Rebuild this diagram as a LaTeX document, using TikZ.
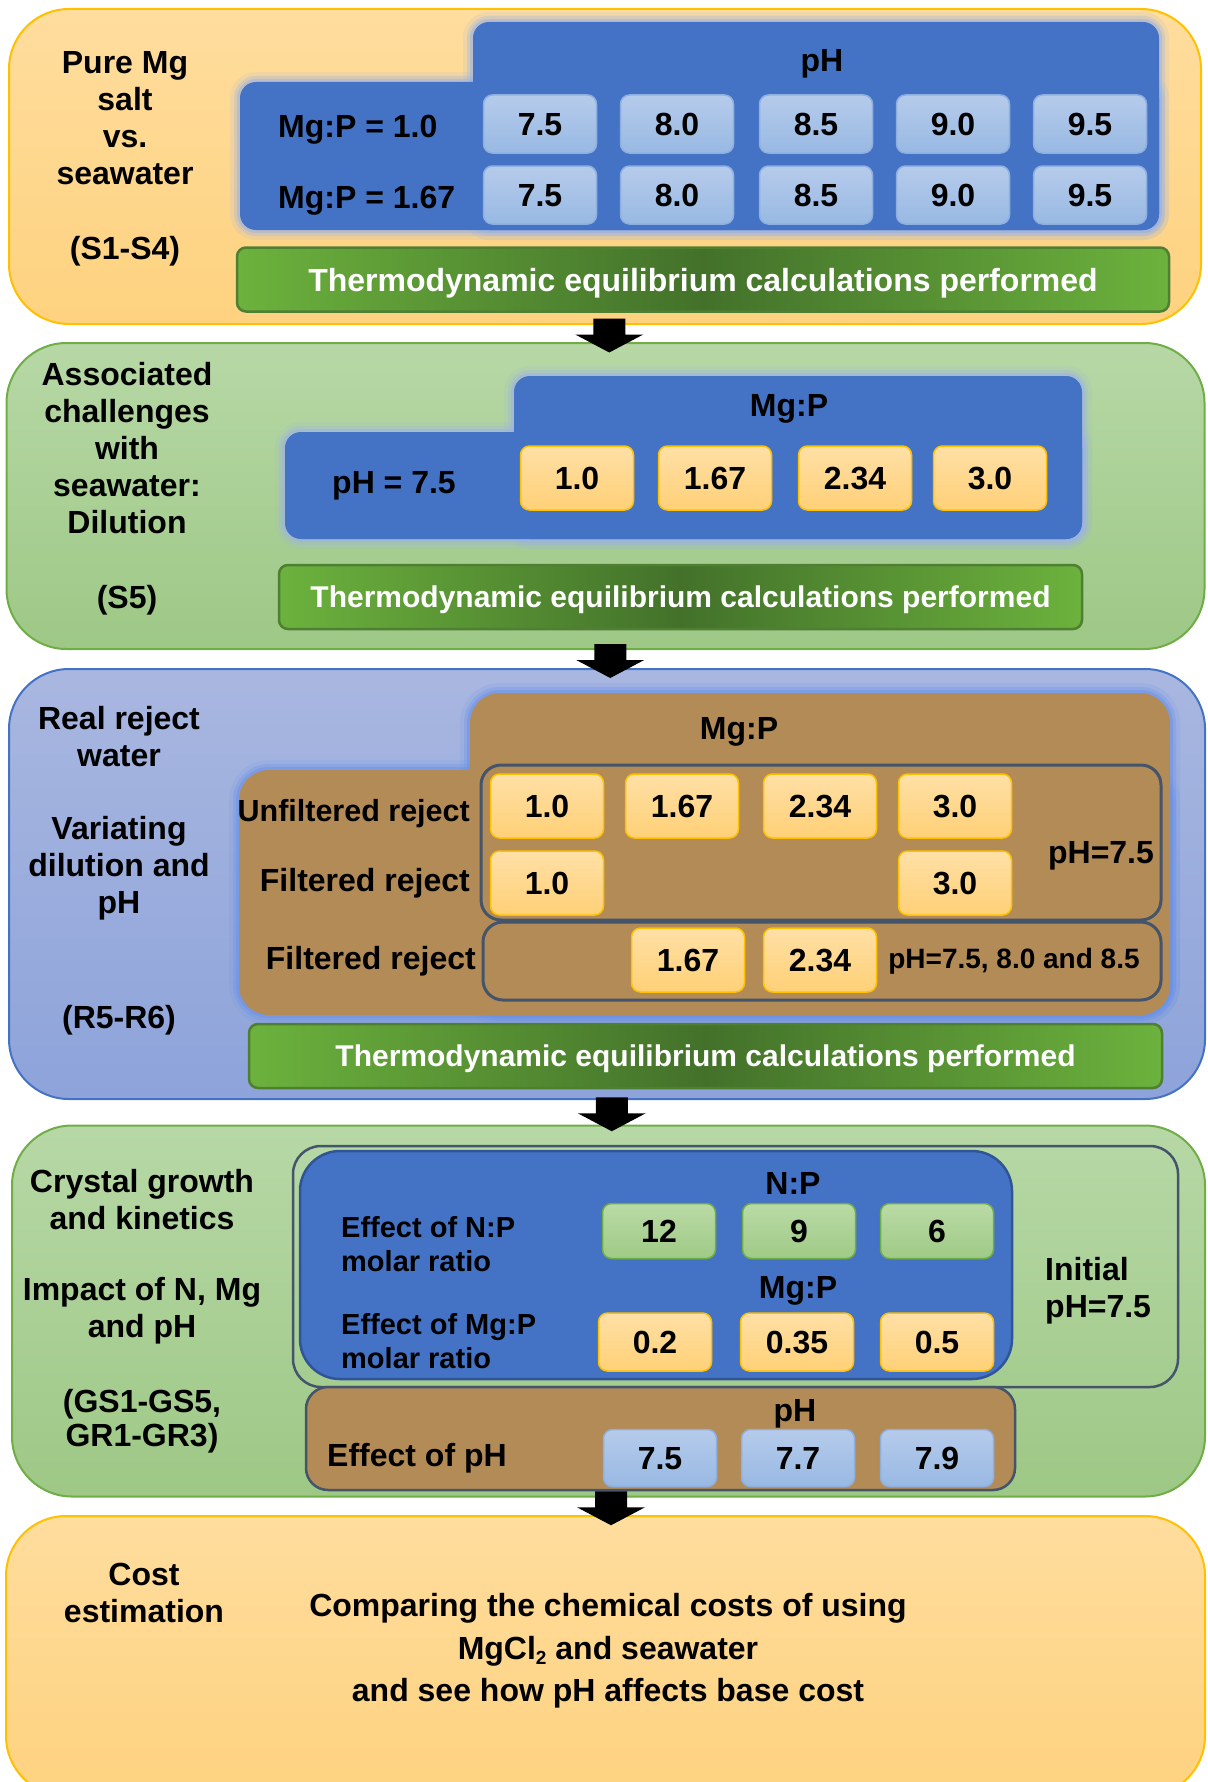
\documentclass[tikz,border=0pt]{standalone}
\usepackage{fontspec}
\setmainfont{Liberation Sans}
\usetikzlibrary{calc}
\definecolor{orgTop}{HTML}{FFDD9E}
\definecolor{orgBot}{HTML}{FED27F}
\definecolor{orgLine}{HTML}{FFC000}
\definecolor{grnTop}{HTML}{B7D8A6}
\definecolor{grnBot}{HTML}{9EC886}
\definecolor{grnLine}{HTML}{70AD47}
\definecolor{bluTop}{HTML}{A9B7E0}
\definecolor{bluBot}{HTML}{8DA3DA}
\definecolor{bluLine}{HTML}{4472C4}
\definecolor{blueA}{HTML}{4472C4}
\definecolor{blueEdge}{HTML}{2F5597}
\definecolor{brownA}{HTML}{B38B56}
\definecolor{slate}{HTML}{44546A}
\definecolor{lbTop}{HTML}{B6CBEB}
\definecolor{lbBot}{HTML}{98B9E3}
\definecolor{lbLine}{HTML}{8DB0E0}
\definecolor{obTop}{HTML}{FFE0A6}
\definecolor{obBot}{HTML}{FFD077}
\definecolor{obLine}{HTML}{FFC000}
\definecolor{gbTop}{HTML}{BADAA6}
\definecolor{gbBot}{HTML}{9FCA86}
\definecolor{gbLine}{HTML}{70AD47}
\definecolor{barSide}{HTML}{6CB23D}
\definecolor{barMid}{HTML}{43712A}
\definecolor{barLine}{HTML}{4F7F32}
\definecolor{glowA}{HTML}{9DB3E3}
\definecolor{glowC}{HTML}{6B93E8}

% #1 glow colour, #2 fill colour, #3 upper rectangle, #4 lower rectangle, #5 radius
\newcommand\glowstep[5]{%
  \foreach \w/\o in {20/0.15, 12/0.3, 6/0.5}{
    \draw[#1, line width=\w, opacity=\o, rounded corners=#5] #3;
    \draw[#1, line width=\w, opacity=\o, rounded corners=#5] #4;
  }
  \fill[#2, rounded corners=#5] #3;
  \fill[#2, rounded corners=#5] #4;}

\newcommand\downarrowblk[3]{%
  \coordinate (#1) at ($(#2.south)!0.5!(#3.north)+(4,0)$);
  \fill[black] (#1) ++(-16,-15) -- ++(32,0) -- ++(0,16) -- ++(18,0) -- ++(-34,18) -- ++(-34,-18) -- ++(18,0) -- cycle;}

\begin{document}
\begin{tikzpicture}[x=1pt,y=-1pt,
  font=\bfseries\fontsize{32}{37}\selectfont,
  panel/.style={rectangle, rounded corners=60, line width=2, inner sep=0},
  one/.style={inner sep=0, text height=23, text depth=0},
  numbox/.style={rectangle, rounded corners=9, line width=1.5, inner sep=0, text height=23, text depth=0, minimum width=113, minimum height=58},
  obox/.style={numbox, draw=obLine, top color=obTop, bottom color=obBot},
  lbox/.style={numbox, draw=lbLine, top color=lbTop, bottom color=lbBot},
  gbox/.style={numbox, draw=gbLine, top color=gbTop, bottom color=gbBot},
  bar/.style={rectangle, rounded corners=9, line width=2.5, draw=barLine, left color=barSide, right color=barSide, middle color=barMid, text=white, inner sep=0, text height=23, text depth=0, minimum height=64},
  smallbar/.style={bar, font=\bfseries\fontsize{30}{34}\selectfont, text height=21.5},
  lbl/.style={align=center, inner sep=0},
  slatebox/.style={draw=slate, line width=3, inner sep=0},
]
\useasboundingbox (0,0) rectangle (1207,1782);

% ---------- panels ----------
\node[panel, draw=orgLine, top color=orgTop, bottom color=orgBot, minimum width=1192, minimum height=315] (p1) at (605,166.5) {};
\node[panel, draw=grnLine, top color=grnTop, bottom color=grnBot, minimum width=1198, minimum height=306] (p2) at (605.5,496) {};
\node[panel, draw=bluLine, top color=bluTop, bottom color=bluBot, minimum width=1196, minimum height=430] (p3) at (607,884) {};
\node[panel, draw=grnLine, top color=grnTop, bottom color=grnBot, minimum width=1193, minimum height=371] (p4) at (608.5,1311) {};
\node[panel, draw=orgLine, top color=orgTop, bottom color=orgBot, minimum width=1199, minimum height=280] (p5) at (605.5,1656) {};

% ---------- panel 1 ----------
\glowstep{glowA}{blueA}{(473,22) rectangle (1159,230)}{(240,82) rectangle (1159,230)}{16}
\node[lbl] (t1) at (125,118) {Pure Mg\\salt\\vs.\\seawater};
\node[one] (t1s) at (125,248) {(S1-S4)};
\node[one] (h1) at (822,60) {pH};
\node[one, anchor=west] (r1a) at (278,126) {Mg:P = 1.0};
\node[one, anchor=west] (r1b) at (278,197) {Mg:P = 1.67};
\foreach \x/\v [count=\i] in {540/7.5, 677/8.0, 816/8.5, 953/9.0, 1090/9.5}{
  \node[lbox] (a\i) at (\x,124) {\v};
  \node[lbox] (b\i) at (\x,195) {\v};
}
\node[bar, minimum width=932] (bar1) at (703,279.5) {Thermodynamic equilibrium calculations performed};

% ---------- panel 2 ----------
\glowstep{glowA}{blueA}{(514,376) rectangle (1082,539)}{(285,432) rectangle (1082,539)}{16}
\node[lbl] (t2) at (127,448) {Associated\\challenges\\with\\seawater:\\Dilution};
\node[one] (t2s) at (127,597) {(S5)};
\node[one] (h2) at (789,405) {Mg:P};
\node[one] (r2) at (394,482) {pH = 7.5};
\foreach \x/\v [count=\i] in {577/1.0, 715/1.67, 855/2.34, 990/3.0}{
  \node[obox, minimum height=64] (c\i) at (\x,478) {\v};
}
\node[smallbar, minimum width=803] (bar2) at (680.5,597) {Thermodynamic equilibrium calculations performed};

% ---------- panel 3 ----------
\glowstep{glowC}{brownA}{(470,693) rectangle (1170,1015)}{(239,770) rectangle (1170,1015)}{30}
\node[lbl] (t3a) at (119,737) {Real reject\\water};
\node[lbl] (t3b) at (119,868) {Variating\\dilution and\\pH};
\node[one] (t3s) at (119,1017) {(R5-R6)};
\node[one] (h3) at (739,728) {Mg:P};
\node[slatebox, rounded corners=20, minimum width=680, minimum height=155] (ib1) at (821,842.5) {};
\node[slatebox, rounded corners=20, minimum width=678, minimum height=78] (ib2) at (822,961) {};
\node[one, anchor=east, font=\bfseries\fontsize{30.5}{36}\selectfont, text height=22] (u1) at (470,810) {Unfiltered reject};
\node[one, anchor=east] (u2) at (470,880) {Filtered reject};
\node[one, anchor=east] (u3) at (476,958) {Filtered reject};
\foreach \x/\v [count=\i] in {547/1.0, 682/1.67, 820/2.34, 955/3.0}{
  \node[obox, minimum height=64] (d\i) at (\x,806) {\v};
}
\node[obox, minimum height=64] (e1) at (547,883) {1.0};
\node[obox, minimum height=64] (e4) at (955,883) {3.0};
\node[obox, minimum height=64] (f2) at (688,960) {1.67};
\node[obox, minimum height=64] (f3) at (820,960) {2.34};
\node[one] (ph3) at (1101,852) {pH=7.5};
\node[one, font=\bfseries\fontsize{28}{32}\selectfont, text height=20] (ph3b) at (1014,958) {pH=7.5, 8.0 and 8.5};
\node[smallbar, minimum width=913] (bar3) at (705.5,1056) {Thermodynamic equilibrium calculations performed};

% ---------- panel 4 ----------
\node[draw=slate, line width=2.5, rounded corners=28, minimum width=885, minimum height=241, inner sep=0] (ob4) at (735.5,1266.5) {};
\node[draw=blueEdge, fill=blueA, line width=2.5, rounded corners=40, minimum width=712, minimum height=228, inner sep=0] (bb4) at (656,1265) {};
\node[draw=slate, fill=brownA, line width=2.5, rounded corners=22, minimum width=709, minimum height=103, inner sep=0] (br4) at (660.5,1438.5) {};
\node[lbl] (t4a) at (142,1200) {Crystal growth\\and kinetics};
\node[lbl] (t4b) at (142,1311) {Impact of N, Mg\\and pH};
\node[lbl, font=\bfseries\fontsize{32}{34}\selectfont] (t4c) at (142,1421) {(GS1-GS5,\\GR1-GR3)};
\node[one] (h4a) at (793,1183) {N:P};
\node[one] (h4b) at (798,1287) {Mg:P};
\node[one] (h4c) at (795,1410) {pH};
\node[align=left, anchor=west, inner sep=0, font=\bfseries\fontsize{29}{34}\selectfont] (e4a) at (341,1244) {Effect of N:P\\molar ratio};
\node[align=left, anchor=west, inner sep=0, font=\bfseries\fontsize{29}{34}\selectfont] (e4b) at (341,1341) {Effect of Mg:P\\molar ratio};
\node[one, anchor=west] (e4c) at (327,1455) {Effect of pH};
\node[align=left, anchor=west, inner sep=0] (i4) at (1045,1291) {Initial\\pH=7.5};
\foreach \x/\v [count=\i] in {659/12, 799/9, 937/6}{
  \node[gbox, minimum height=55] (g\i) at (\x,1231) {\v};
}
\foreach \x/\v [count=\i] in {655/0.2, 797/0.35, 937/0.5}{
  \node[obox] (k\i) at (\x,1342) {\v};
}
\foreach \x/\v [count=\i] in {660/7.5, 798/7.7, 937/7.9}{
  \node[lbox, minimum height=57] (q\i) at (\x,1458) {\v};
}

% ---------- panel 5 ----------
\node[lbl] (t5) at (144,1593) {Cost\\estimation};
\node[lbl, font=\bfseries\fontsize{32}{42.5}\selectfont] (m5) at (608,1651) {Comparing the chemical costs of using\\MgCl\raisebox{-5pt}{\fontsize{19}{19}\selectfont 2} and seawater\\and see how pH affects base cost};

% ---------- arrows ----------
\downarrowblk{m1}{p1}{p2}
\downarrowblk{m2}{p2}{p3}
\downarrowblk{m3}{p3}{p4}
\downarrowblk{m4}{p4}{p5}
\end{tikzpicture}
\end{document}
